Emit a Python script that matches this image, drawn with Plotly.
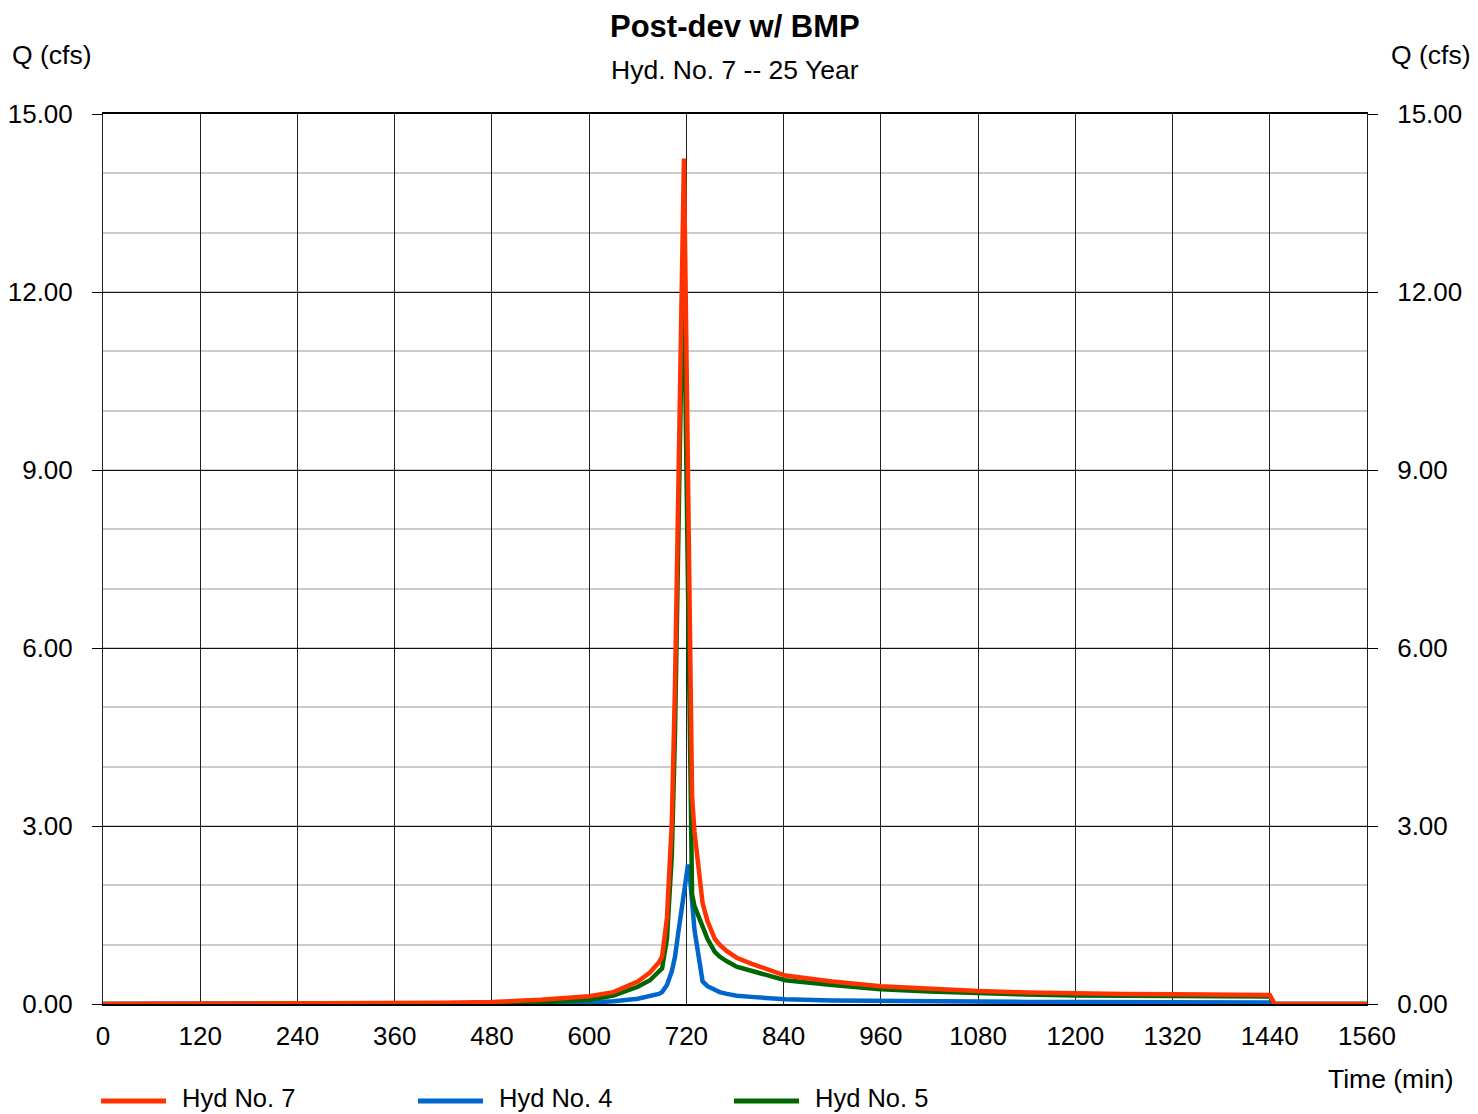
import plotly.graph_objects as go

# Time (min)
time_min = [0, 120, 240, 360, 420, 480, 540, 600, 630, 660, 675, 686, 690, 696, 702, 706, 710, 714, 717,
            720, 722, 724, 727, 730, 734, 740, 746, 755, 761, 770, 782, 800, 842, 900, 960, 1020, 1080,
            1140, 1200, 1260, 1320, 1380, 1440, 1446, 1560]

# Hyd No. 4 (cfs)
hyd4 = [0, 0, 0, 0, 0.002, 0.005, 0.01, 0.025, 0.045, 0.09, 0.13, 0.17, 0.2, 0.32, 0.55, 0.8, 1.2, 1.6, 1.95,
        2.25, 2.35, 2.2, 1.65, 1.25, 0.9, 0.38, 0.3, 0.24, 0.2, 0.17, 0.14, 0.12, 0.08, 0.06, 0.05, 0.045, 0.04,
        0.035, 0.032, 0.03, 0.028, 0.026, 0.025, 0, 0]

# Hyd No. 5 (cfs)
hyd5 = [0, 0, 0, 0.001, 0.003, 0.01, 0.03, 0.07, 0.14, 0.29, 0.4, 0.54, 0.6, 1.1, 2.5, 4.6, 7.7, 11.0, 12.2,
        8.8, 6.5, 4.2, 1.85, 1.65, 1.5, 1.3, 1.1, 0.88, 0.8, 0.72, 0.63, 0.56, 0.40, 0.32, 0.25, 0.21, 0.18,
        0.16, 0.145, 0.14, 0.135, 0.13, 0.125, 0, 0]

# Hyd No. 7 (cfs)
hyd7 = [0, 0.002, 0.005, 0.012, 0.02, 0.035, 0.07, 0.13, 0.2, 0.38, 0.53, 0.7, 0.8, 1.45, 3.05, 5.4, 8.9, 12.6, 14.25,
        11.05, 8.85, 6.4, 3.5, 2.9, 2.4, 1.7, 1.4, 1.1, 1.0, 0.89, 0.78, 0.68, 0.48, 0.38, 0.3, 0.255, 0.22,
        0.195, 0.177, 0.17, 0.163, 0.156, 0.15, 0, 0]

x_ticks = list(range(0, 1561, 120))
y_ticks = [0, 3, 6, 9, 12, 15]

RED = "#FF3300"
BLUE = "#0066CC"
GREEN = "#006600"
FONT = "Arial, Liberation Sans, sans-serif"
TICK_SIZE = 26
TEXT_SIZE = 26.5

fig = go.Figure()
for name, vals, col in [("Hyd No. 4", hyd4, BLUE), ("Hyd No. 5", hyd5, GREEN), ("Hyd No. 7", hyd7, RED)]:
    fig.add_trace(go.Scatter(x=time_min, y=vals, mode="lines", name=name,
                             line=dict(color=col, width=4.5), showlegend=False))
# invisible trace to enable right axis
fig.add_trace(go.Scatter(x=[0], y=[0], yaxis="y2", mode="lines", showlegend=False,
                         line=dict(width=0), hoverinfo="skip"))

# page has an 8px body margin, so the figure is drawn 8px smaller and shifted
fig.update_layout(
    width=1470, height=1106,
    margin=dict(l=95, r=111, t=106, b=110, autoexpand=False),
    paper_bgcolor="white", plot_bgcolor="white",
    font=dict(family=FONT, color="black", size=TICK_SIZE),
    xaxis=dict(range=[0, 1560], tickvals=x_ticks, ticktext=[str(v) for v in x_ticks],
               showgrid=True, gridcolor="#222222", gridwidth=1, zeroline=False,
               showline=True, mirror=True, linecolor="black", linewidth=2, automargin=False,
               ticks="", ticklabelstandoff=8, tickfont=dict(size=TICK_SIZE)),
    yaxis=dict(range=[0, 15], tickvals=y_ticks, tickformat=".2f", automargin=False,
               showgrid=True, gridcolor="#111111", gridwidth=1, zeroline=False,
               showline=True, mirror=True, linecolor="#222222", linewidth=1,
               ticks="outside", ticklen=10, tickcolor="black", ticklabelstandoff=14,
               tickfont=dict(size=TICK_SIZE),
               minor=dict(dtick=1, showgrid=True, gridcolor="#cccccc", gridwidth=2, ticks="")),
    yaxis2=dict(range=[0, 15], tickvals=y_ticks, tickformat=".2f", overlaying="y", side="right",
                automargin=False,
                showgrid=False, zeroline=False, ticks="outside", ticklen=10, tickcolor="black",
                ticklabelstandoff=14, tickfont=dict(size=TICK_SIZE)),
)

def px2paper(px, py):
    return (px - 103) / 1264, (1004 - py) / 890

anns = []
x, y = px2paper(735, 26)
anns.append(dict(text="<b>Post-dev w/ BMP</b>", x=0.5, y=y, font=dict(size=31)))
x, y = px2paper(735, 70)
anns.append(dict(text="Hyd. No. 7 -- 25 Year", x=0.5, y=y, font=dict(size=TEXT_SIZE)))
x, y = px2paper(10, 55)
anns.append(dict(text="Q (cfs)", x=x, y=y, xanchor="left", font=dict(size=TEXT_SIZE)))
x, y = px2paper(1473, 55)
anns.append(dict(text="Q (cfs)", x=x, y=y, xanchor="right", font=dict(size=TEXT_SIZE)))
x, y = px2paper(1456, 1079)
anns.append(dict(text="Time (min)", x=x, y=y, xanchor="right", font=dict(size=TEXT_SIZE)))

shapes = []
legend_items = [("Hyd No. 7", RED, 101), ("Hyd No. 4", BLUE, 418), ("Hyd No. 5", GREEN, 734)]
for name, col, lx in legend_items:
    x0, y0 = px2paper(lx, 1101)
    x1, _ = px2paper(lx + 65, 1101)
    shapes.append(dict(type="line", xref="paper", yref="paper", x0=x0, x1=x1, y0=y0, y1=y0,
                       line=dict(color=col, width=5)))
    tx, ty = px2paper(lx + 79, 1098)
    anns.append(dict(text=name, x=tx, y=ty, xanchor="left", font=dict(size=25.5)))

for a in anns:
    a.update(xref="paper", yref="paper", showarrow=False, yanchor="middle")
    a.setdefault("xanchor", "center")

fig.update_layout(annotations=anns, shapes=shapes)
fig.write_html("out.html")
